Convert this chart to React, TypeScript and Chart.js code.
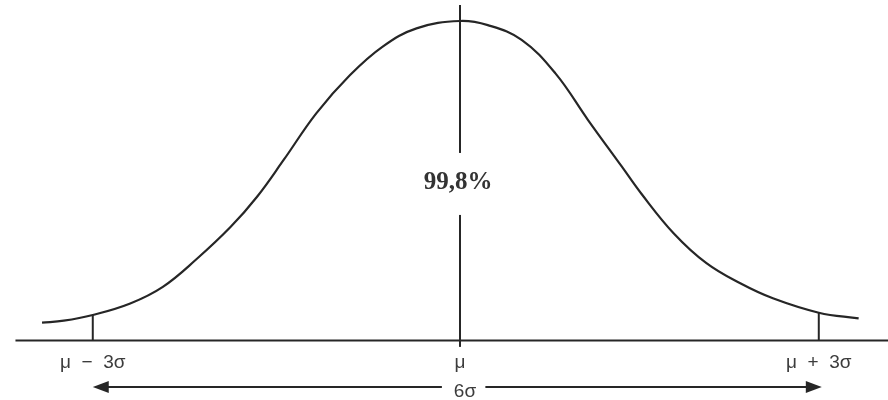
import React, { useEffect, useRef } from "react";
import { Chart, registerables } from "chart.js";

Chart.register(...registerables);

// Curve readings: x in σ units (μ = 0), y as % of peak height
const CURVE_X = [-3.46, -3.28, -3.04, -2.73, -2.46, -2.18, -1.9, -1.68, -1.46, -1.19, -0.91, -0.64, -0.36, 0, 0.23, 0.51, 0.79, 1.06, 1.34, 1.5, 1.77, 2.04, 2.32, 2.59, 2.97, 3.3];
const CURVE_Y = [5.6, 6.2, 8.0, 11.6, 16.8, 25.5, 35.5, 45.0, 56.5, 71.1, 83.1, 92.0, 97.7, 100, 98.7, 94.1, 83.6, 69.0, 54.4, 46.0, 33.5, 24.2, 17.9, 13.2, 8.7, 6.9];

// Markers at μ−3σ, μ, μ+3σ
const MARKER_X = [-3.04, 0, 2.97];
const MARKER_LABELS = ["μ  −  3σ", "μ", "μ  +  3σ"];
const SIDE_TICK_HEIGHT = [8.0, 8.7];

const AXIS_RANGE = [-3.68, 3.55];
const CENTER_LINE = [-2.0, 39.3, 58.7, 105.0]; // bottom, gap start, gap end, top
const CENTER_TEXT = "99,8%";
const CENTER_TEXT_Y = 49.5;
const SPREAD_LABEL = "6σ";
const ARROW_Y = -14.55;
const ARROW_GAP = [-0.15, 0.21];
const LABEL_Y = -4.0;
const SPREAD_LABEL_Y = -13.0;

const INK = "#262626";

export default function App() {
  const ref = useRef<HTMLCanvasElement | null>(null);

  useEffect(() => {
    if (!ref.current) return;
    const curve = CURVE_X.map((x, i) => ({ x, y: CURVE_Y[i] }));
    const line = (data: { x: number; y: number }[], width = 2) => ({
      data,
      showLine: true,
      borderColor: INK,
      borderWidth: width,
      pointRadius: 0,
      fill: false,
    });

    const annotations = {
      id: "annotations",
      afterDatasetsDraw(chart: any) {
        const { ctx, scales } = chart;
        const xs = scales.x;
        const ys = scales.y;
        ctx.save();
        // axis labels
        ctx.fillStyle = "#3c3c3c";
        ctx.font = "19px 'Liberation Sans', Arial, sans-serif";
        ctx.textAlign = "center";
        ctx.textBaseline = "top";
        MARKER_X.forEach((mx, i) => {
          ctx.fillText(MARKER_LABELS[i], xs.getPixelForValue(mx), ys.getPixelForValue(LABEL_Y));
        });
        // spread label
        ctx.fillText(SPREAD_LABEL, xs.getPixelForValue(0) + 5, ys.getPixelForValue(SPREAD_LABEL_Y));
        // center text
        ctx.fillStyle = "#333333";
        ctx.font = "bold 25px 'Liberation Serif', 'Times New Roman', serif";
        ctx.textBaseline = "middle";
        ctx.fillText(CENTER_TEXT, xs.getPixelForValue(0) - 2, ys.getPixelForValue(CENTER_TEXT_Y));
        // arrowheads
        const ay = ys.getPixelForValue(ARROW_Y);
        const lx = xs.getPixelForValue(MARKER_X[0]);
        const rx = xs.getPixelForValue(MARKER_X[2]) + 3;
        ctx.fillStyle = INK;
        ctx.beginPath();
        ctx.moveTo(lx, ay);
        ctx.lineTo(lx + 16, ay - 6);
        ctx.lineTo(lx + 16, ay + 6);
        ctx.closePath();
        ctx.fill();
        ctx.beginPath();
        ctx.moveTo(rx, ay);
        ctx.lineTo(rx - 16, ay - 6);
        ctx.lineTo(rx - 16, ay + 6);
        ctx.closePath();
        ctx.fill();
        ctx.restore();
      },
    };

    const chart = new Chart(ref.current, {
      type: "scatter",
      data: {
        datasets: [
          { ...line(curve, 2.2), tension: 0.4 } as any,
          line([{ x: AXIS_RANGE[0], y: 0 }, { x: AXIS_RANGE[1], y: 0 }], 2),
          line([{ x: MARKER_X[0], y: 0 }, { x: MARKER_X[0], y: SIDE_TICK_HEIGHT[0] }], 2),
          line([{ x: MARKER_X[2], y: 0 }, { x: MARKER_X[2], y: SIDE_TICK_HEIGHT[1] }], 2),
          line([{ x: MARKER_X[1], y: CENTER_LINE[0] }, { x: MARKER_X[1], y: CENTER_LINE[1] }], 2),
          line([{ x: MARKER_X[1], y: CENTER_LINE[2] }, { x: MARKER_X[1], y: CENTER_LINE[3] }], 2),
          line([{ x: MARKER_X[0] + 0.1, y: ARROW_Y }, { x: ARROW_GAP[0], y: ARROW_Y }], 2),
          line([{ x: ARROW_GAP[1], y: ARROW_Y }, { x: MARKER_X[2] - 0.05, y: ARROW_Y }], 2),
        ],
      },
      options: {
        animation: false,
        responsive: false,
        events: [],
        layout: { padding: 0 },
        plugins: { legend: { display: false }, tooltip: { enabled: false } },
        scales: {
          x: { type: "linear", display: false, min: -3.808, max: 3.543 },
          y: { type: "linear", display: false, min: -18.62, max: 106.57 },
        },
        elements: { line: { borderCapStyle: "butt" } },
      },
      plugins: [annotations],
    });
    return () => chart.destroy();
  }, []);

  return (
    <div style={{ position: "absolute", left: 0, top: 0, width: 888, height: 400, background: "#fff" }}>
      <canvas ref={ref} width={888} height={400} />
    </div>
  );
}
